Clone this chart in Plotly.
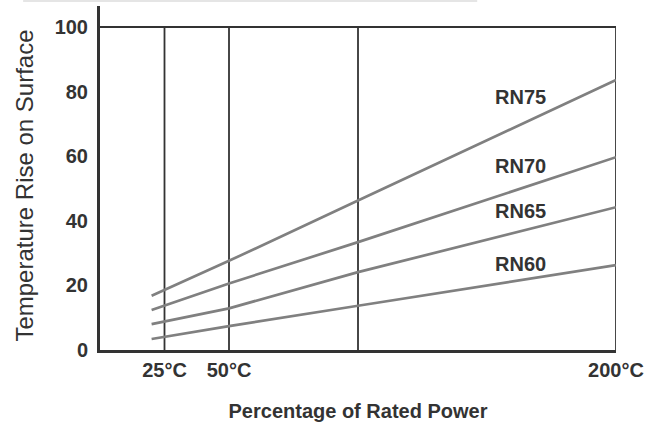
import plotly.graph_objects as go

# Data
power_pct = [20, 50, 100, 200]
rn75 = [16.8, 27.6, 46.3, 83.6]
rn70 = [12.4, 20.6, 33.4, 59.7]
rn65 = [8.0, 12.9, 24.1, 44.2]
rn60 = [3.4, 7.4, 13.7, 26.3]
series_names = ["RN75", "RN70", "RN65", "RN60"]
label_y = [78.4, 57.0, 43.1, 26.6]
label_x = 163
grid_x = [25, 50, 100, 200]
x_tickvals = [25, 50, 200]
x_ticktext = ["25°C", "50°C", "200°C"]
y_tickvals = [0, 20, 40, 60, 80, 100]

DARK = "#333333"
LINE = "#808080"
FONT = "Liberation Sans"

fig = go.Figure()
for name, vals in zip(series_names, [rn75, rn70, rn65, rn60]):
    fig.add_trace(go.Scatter(x=power_pct, y=vals, mode="lines", name=name,
                             line=dict(color=LINE, width=2.7), showlegend=False,
                             hoverinfo="skip"))

# vertical grid lines
for gx in grid_x:
    fig.add_shape(type="line", xref="x", yref="y", x0=gx, x1=gx, y0=0, y1=100,
                  line=dict(color=DARK, width=1.8), layer="below")
# top frame line at 100
fig.add_shape(type="line", xref="x", yref="y", x0=0, x1=200, y0=100, y1=100,
              line=dict(color=DARK, width=1.8), layer="below")
# faint top separator
fig.add_shape(type="line", xref="paper", yref="paper", x0=-0.149, x1=0.731,
              y0=1.0145, y1=1.0145, line=dict(color="#dddddd", width=1.5))

for name, ly in zip(series_names, label_y):
    fig.add_annotation(x=label_x, y=ly, text=name, showarrow=False,
                       font=dict(family=FONT, size=20, color=DARK, weight="bold"))

# y-axis title as rotated annotation for exact placement
fig.add_annotation(xref="paper", yref="paper", x=-0.1453, y=0.478,
                   text="Temperature Rise on Surface", textangle=-90,
                   showarrow=False, xanchor="center", yanchor="middle",
                   font=dict(family=FONT, size=24, color=DARK, weight=500))

fig.update_layout(
    width=662, height=425,
    margin=dict(l=100, r=46, t=6, b=75, autoexpand=False),
    paper_bgcolor="white", plot_bgcolor="white",
    font=dict(family=FONT, color=DARK),
    xaxis=dict(range=[0, 200], tickvals=x_tickvals, ticktext=x_ticktext,
               showgrid=False, zeroline=False, showline=True, linecolor=DARK,
               linewidth=3, ticks="", ticklabelstandoff=0, automargin=False,
               tickfont=dict(family=FONT, size=20, color=DARK, weight="bold"),
               title=dict(text="Percentage of Rated Power", standoff=24,
                          font=dict(family=FONT, size=20, color=DARK, weight="bold"))),
    yaxis=dict(range=[0, 106.5], tickvals=y_tickvals,
               showgrid=False, zeroline=False, showline=True, linecolor=DARK,
               linewidth=3, ticks="", ticklabelstandoff=5, automargin=False,
               tickfont=dict(family=FONT, size=20, color=DARK, weight="bold")),
)

fig.write_html("out.html", config={"displayModeBar": False},
               post_script="document.body.style.margin='0';document.body.style.padding='0';")
